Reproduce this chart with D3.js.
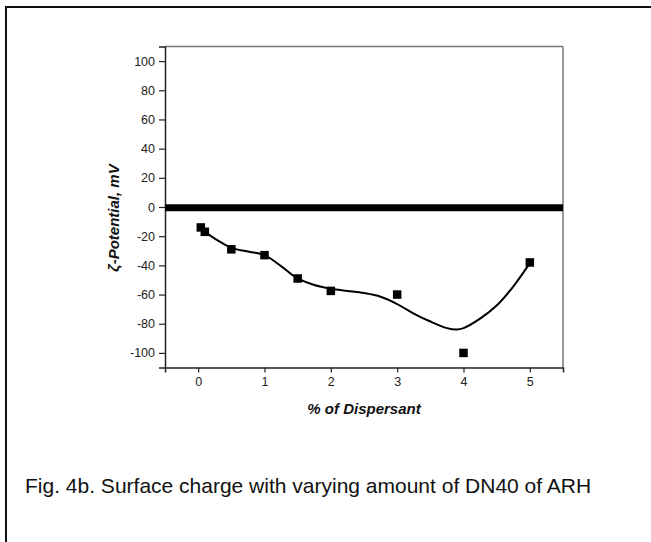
<!DOCTYPE html>
<html>
<head>
<meta charset="utf-8">
<script src="https://cdn.jsdelivr.net/npm/d3@7"></script>
<style>
  body { margin: 0; background: #fff; }
  svg { display: block; font-family: "Liberation Sans", Arial, sans-serif; }
</style>
</head>
<body>
<div id="chart"></div>
<script>
// measured points
const dispersant = [0.04, 0.1, 0.5, 1, 1.5, 2, 3, 4, 5];
const potential = [-14, -17, -29, -33, -49, -57.5, -60, -100, -38];

// fitted curve
const fitX = [0.1, 0.3, 0.5, 0.75, 1, 1.25, 1.5, 1.75, 2, 2.25, 2.5, 2.75, 3, 3.25, 3.5, 3.75, 3.9, 4, 4.25, 4.5, 4.75, 5];
const fitY = [-17, -23, -28, -30.5, -33, -40.5, -49, -53.5, -56, -57.5, -59, -61.5, -66.5, -73, -78.5, -83, -84, -83, -76.5, -67.5, -54.5, -38.5];

const xMajor = [0, 1, 2, 3, 4, 5];
const xMinor = [-0.5, 0.5, 1.5, 2.5, 3.5, 4.5, 5.5];
const yMajor = [-100, -80, -60, -40, -20, 0, 20, 40, 60, 80, 100];
const yMinor = [-110, -90, -70, -50, -30, -10, 10, 30, 50, 70, 90, 110];

const W = 651, H = 542;
const margin = { top: 46.5, right: 88, bottom: 174.5, left: 165 };

const svg = d3.select("#chart").append("svg")
  .attr("width", W)
  .attr("height", H);

// figure frame (runs off the right and bottom edge)
svg.append("rect")
  .attr("x", 6).attr("y", 7)
  .attr("width", 700).attr("height", 600)
  .attr("fill", "none")
  .attr("stroke", "#111")
  .attr("stroke-width", 2);

const x = d3.scaleLinear()
  .domain([-0.5, 5.5])
  .range([margin.left, W - margin.right]);

const y = d3.scaleLinear()
  .domain([-110, 110])
  .range([H - margin.bottom, margin.top]);

const plain = d => String(d);  // hyphen minus, like the original

// top and right frame lines
svg.append("line")
  .attr("x1", x(-0.5)).attr("x2", x(5.5))
  .attr("y1", y(110)).attr("y2", y(110))
  .attr("stroke", "#777").attr("stroke-width", 1.5);
svg.append("line")
  .attr("x1", x(5.5)).attr("x2", x(5.5))
  .attr("y1", y(110)).attr("y2", y(-110))
  .attr("stroke", "#777").attr("stroke-width", 1.5);

// bottom axis
const gx = svg.append("g")
  .attr("transform", `translate(0,${y(-110)})`);
gx.call(d3.axisBottom(x).tickValues(xMinor).tickSize(3).tickFormat(""));
gx.call(d3.axisBottom(x).tickValues(xMajor).tickSize(5).tickPadding(5).tickFormat(plain));
gx.selectAll(".domain").attr("stroke", "#222").attr("stroke-width", 1.5);
gx.selectAll(".tick line").attr("stroke", "#222").attr("stroke-width", 1.2);
gx.selectAll("text").attr("font-size", 12.5).attr("fill", "#222")
  .style("font-family", "'Liberation Sans', Arial, sans-serif");

// left axis
const gy = svg.append("g")
  .attr("transform", `translate(${x(-0.5)},0)`);
gy.call(d3.axisLeft(y).tickValues(yMinor).tickSize(3).tickFormat(""));
gy.call(d3.axisLeft(y).tickValues(yMajor).tickSize(6).tickPadding(4).tickFormat(plain));
gy.selectAll(".domain").attr("stroke", "#222").attr("stroke-width", 1.5);
gy.selectAll(".tick line").attr("stroke", "#222").attr("stroke-width", 1.2);
gy.selectAll("text").attr("font-size", 12.5).attr("fill", "#222")
  .style("font-family", "'Liberation Sans', Arial, sans-serif");

// zero line
svg.append("line")
  .attr("x1", x(-0.5)).attr("x2", x(5.5))
  .attr("y1", y(-0.5)).attr("y2", y(-0.5))
  .attr("stroke", "#000").attr("stroke-width", 7);

// fitted curve
const fit = fitX.map((d, i) => [d, fitY[i]]);
svg.append("path")
  .datum(fit)
  .attr("fill", "none")
  .attr("stroke", "#000")
  .attr("stroke-width", 2)
  .attr("d", d3.line()
    .x(d => x(d[0]))
    .y(d => y(d[1]))
    .curve(d3.curveCatmullRom.alpha(0.5)));

// squares
const s = 8.5;
svg.selectAll(".pt")
  .data(dispersant.map((d, i) => [d, potential[i]]))
  .enter()
  .append("rect")
  .attr("class", "pt")
  .attr("x", d => x(d[0]) - s / 2)
  .attr("y", d => y(d[1]) - s / 2)
  .attr("width", s)
  .attr("height", s)
  .attr("fill", "#000");

// axis titles
svg.append("text")
  .attr("x", (x(-0.5) + x(5.5)) / 2)
  .attr("y", 414)
  .attr("text-anchor", "middle")
  .attr("font-size", 15)
  .attr("font-weight", "bold")
  .attr("font-style", "italic")
  .attr("fill", "#111")
  .text("% of Dispersant");

svg.append("text")
  .attr("transform", "translate(119,218) rotate(-90)")
  .attr("text-anchor", "middle")
  .attr("font-size", 15)
  .attr("font-weight", "bold")
  .attr("font-style", "italic")
  .attr("fill", "#111")
  .text("ζ-Potential, mV");

// caption
svg.append("text")
  .attr("x", 25)
  .attr("y", 493)
  .attr("font-size", 21)
  .attr("fill", "#111")
  .text("Fig. 4b. Surface charge with varying amount of DN40 of ARH");
</script>
</body>
</html>
